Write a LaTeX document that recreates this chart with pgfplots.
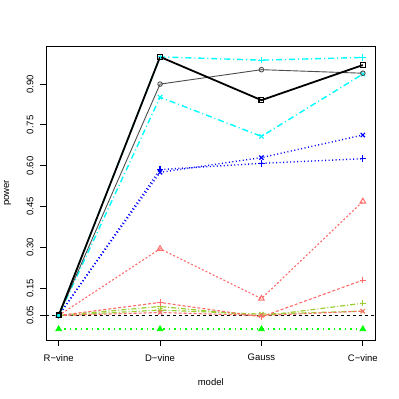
\documentclass[border=0pt]{standalone}
\usepackage{pgfplots}
\pgfplotsset{compat=1.18}
\usepackage{fontspec}
\setmainfont{Liberation Sans}
\definecolor{rcyan}{HTML}{00FFFF}
\definecolor{rblue}{HTML}{0000FF}
\definecolor{rred}{HTML}{FF6A6A}
\definecolor{rygreen}{HTML}{9ACD32}
\definecolor{rgreen}{HTML}{00FF00}
\definecolor{rgray}{HTML}{4D4D4D}
\begin{document}
\fontsize{9.5bp}{11bp}\selectfont
\begin{tikzpicture}
\path[use as bounding box] (-46.5bp,-59bp) rectangle (352.5bp,340bp);
\begin{axis}[
  at={(0,0)}, anchor=south west,
  scale only axis, width=328.5bp, height=294bp,
  xmin=0.88, xmax=4.12, ymin=-0.04, ymax=1.04,
  xtick={1,2,3,4}, xticklabels={R−vine,D−vine,Gauss,C−vine},
  ytick={0.05,0.15,0.30,0.45,0.60,0.75,0.90},
  yticklabels={0.05,0.15,0.30,0.45,0.60,0.75,0.90},
  tick align=outside, major tick length=6bp, tick pos=left,
  axis line style={line width=0.9bp},
  every tick/.style={black, line width=0.9bp},
  xticklabel style={anchor=center, yshift=-11.7bp, font=\fontsize{9.5bp}{11bp}\selectfont},
  yticklabel style={xshift=-10.5bp, rotate=90, anchor=center, font=\fontsize{9.5bp}{11bp}\selectfont},
  xlabel={model}, ylabel={power},
  xlabel style={at={([yshift=-41.7bp]axis description cs:0.5,0)}, anchor=center, font=\fontsize{9.5bp}{11bp}\selectfont},
  ylabel style={at={([xshift=-39bp]axis description cs:0,0.5)}, anchor=center, font=\fontsize{9.5bp}{11bp}\selectfont},
  every axis plot/.append style={line width=0.9bp},
  clip=false,
]
\draw[black, dash pattern=on 3bp off 3bp, line width=0.9bp] (axis cs:0.88,0.05) -- (axis cs:4.12,0.05);
% bright green, filled triangles, dotted
\addplot[rgreen, line width=1.8bp, dash pattern=on 1.5bp off 4bp, mark=triangle*, mark size=3.2bp, mark options={solid, line width=0.9bp, draw=rgreen, fill=rgreen}] coordinates {(1,0.0) (2,0.0) (3,0.0) (4,0.0)};
% yellow-green with +
\addplot[rygreen, line width=1.2bp, dash pattern=on 1bp off 2bp on 5bp off 2bp, mark=+, mark size=3.2bp, mark options={solid, line width=1bp, draw=rygreen}] coordinates {(1,0.05) (2,0.083) (3,0.048) (4,0.095)};
% yellow-green with x
\addplot[rygreen, line width=1.2bp, dash pattern=on 1bp off 2bp on 5bp off 2bp, mark=x, mark size=3bp, mark options={solid, line width=1bp, draw=rygreen}] coordinates {(1,0.05) (2,0.070) (3,0.055) (4,0.066)};
% red with x
\addplot[rred, line width=1.1bp, dash pattern=on 3bp off 2bp, mark=x, mark size=3bp, mark options={solid, line width=1bp, draw=rred}] coordinates {(1,0.05) (2,0.061) (3,0.050) (4,0.066)};
% red with +
\addplot[rred, line width=1.1bp, dash pattern=on 3bp off 2bp, mark=+, mark size=3.2bp, mark options={solid, line width=1bp, draw=rred}] coordinates {(1,0.05) (2,0.098) (3,0.045) (4,0.180)};
% red with triangles
\addplot[rred, line width=1.1bp, dash pattern=on 2bp off 2bp, mark=triangle, mark size=3.2bp, mark options={solid, line width=1bp, draw=rred}] coordinates {(1,0.05) (2,0.295) (3,0.112) (4,0.469)};
% blue dotted with +
\addplot[rblue, line width=1.4bp, dash pattern=on 1bp off 2.5bp, mark=+, mark size=3.2bp, mark options={solid, line width=1.2bp, draw=rblue}] coordinates {(1,0.05) (2,0.586) (3,0.609) (4,0.626)};
% blue dotted with x
\addplot[rblue, line width=1.4bp, dash pattern=on 1bp off 2.5bp, mark=x, mark size=3bp, mark options={solid, line width=1.2bp, draw=rblue}] coordinates {(1,0.05) (2,0.576) (3,0.630) (4,0.713)};
% cyan dotdash with x
\addplot[rcyan, line width=1.4bp, dash pattern=on 1bp off 3bp on 6bp off 3bp, mark=x, mark size=3bp, mark options={solid, line width=1.1bp, draw=rcyan}] coordinates {(1,0.05) (2,0.852) (3,0.708) (4,0.937)};
% cyan dotdash with +
\addplot[rcyan, line width=1.4bp, dash pattern=on 1bp off 3bp on 6bp off 3bp, mark=+, mark size=3.2bp, mark options={solid, line width=1.1bp, draw=rcyan}] coordinates {(1,0.05) (2,1.000) (3,0.988) (4,0.998)};
% gray solid circles
\addplot[rgray, line width=0.9bp, mark=o, mark size=2.3bp, mark options={solid, line width=0.9bp, draw=rgray}] coordinates {(1,0.05) (2,0.900) (3,0.953) (4,0.940)};
% black thick squares
\addplot[black, line width=1.8bp, mark=square, mark size=2.4bp, mark options={solid, line width=1.2bp, draw=black}] coordinates {(1,0.05) (2,1.000) (3,0.841) (4,0.970)};
\end{axis}
\end{tikzpicture}
\end{document}
